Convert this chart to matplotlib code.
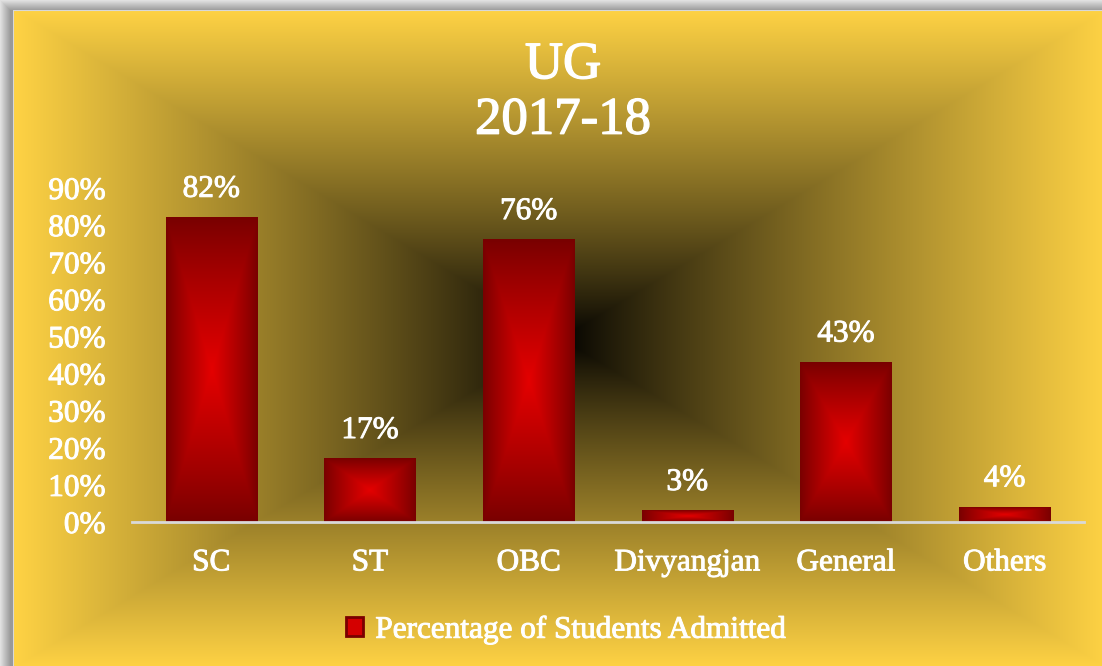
import numpy as np
import matplotlib
matplotlib.use('Agg')
import matplotlib.pyplot as plt
import matplotlib.patheffects as pe
from matplotlib.patches import Rectangle

# Data
categories = ['SC', 'ST', 'OBC', 'Divyangjan', 'General', 'Others']
values = [0.82, 0.17, 0.76, 0.03, 0.43, 0.04]
value_labels = ['82%', '17%', '76%', '3%', '43%', '4%']
y_ticks = [0.0, 0.1, 0.2, 0.3, 0.4, 0.5, 0.6, 0.7, 0.8, 0.9]
y_tick_labels = ['0%', '10%', '20%', '30%', '40%', '50%', '60%', '70%', '80%', '90%']
series_name = 'Percentage of Students Admitted'
title = 'UG\n2017-18'

W, H = 1102, 666
plt.rcParams['font.family'] = ['Liberation Serif', 'DejaVu Serif']
fs = 22.5
# slight white stroke to get closer to the heavier reference font
thick = [pe.withStroke(linewidth=0.7, foreground='white')]

fig = plt.figure(figsize=(W / 100, H / 100), dpi=100)

# grey frame/shadow behind the chart
frame_ax = fig.add_axes([0, 0, 1, 1])
frame_ax.set_axis_off()
px = np.arange(W)
py = np.arange(H)
PX, PY = np.meshgrid(px, py)
d = np.minimum(PX, PY).astype(float)
g = np.clip(0.88 - d * 0.028, 0.6, 0.9)
frame_ax.imshow(np.dstack([g, g, g]), extent=(0, W, H, 0), aspect='auto')
frame_ax.set_xlim(0, W)
frame_ax.set_ylim(H, 0)

# gold -> black rectangular gradient background
x0, y0 = 13, 10
bg_ax = fig.add_axes([x0 / W, 0, 1 - x0 / W, 1 - y0 / H])
bg_ax.set_axis_off()
cx, cy, hw, hh = 560, 338, 545, 328
t = np.maximum(np.abs(PX - cx) / hw, np.abs(PY - cy) / hh)
t = np.clip(t, 0, 1) ** 0.85
gold = np.array([254, 210, 68]) / 255
bg = t[..., None] * gold
bg = bg[y0:, x0:]
bg_ax.imshow(bg, extent=(x0, W, H, y0), aspect='auto')
bg_ax.set_xlim(x0, W)
bg_ax.set_ylim(H, y0)
bg_ax.add_patch(Rectangle((x0, y0), W, H, fill=False, edgecolor='#d8d8d8', linewidth=1.5))

# main chart axes
ax = fig.add_axes([132 / W, 1 - 522 / H, (1084 - 132) / W, (522 - 188) / H])
ax.patch.set_alpha(0)

x = np.arange(len(categories))
bar_w = 0.575
bars = ax.bar(x, values, width=bar_w, color='none', edgecolor='none')

# red rectangular gradient inside each bar
n = 200
u = np.linspace(-1, 1, n)
U, V = np.meshgrid(u, u)
tb = 1 - np.maximum(np.abs(U), np.abs(V))
tb = tb ** 0.9
dark = np.array([120, 0, 0]) / 255
bright = np.array([228, 0, 0]) / 255
bar_img = dark + tb[..., None] * (bright - dark)
for b in bars:
    bx, bw, bh = b.get_x(), b.get_width(), b.get_height()
    ax.imshow(bar_img, extent=(bx, bx + bw, 0, bh), aspect='auto', zorder=2)

for xi, v, lab in zip(x, values, value_labels):
    ax.annotate(lab, (xi, v), xytext=(0, 10), textcoords='offset points',
                ha='center', va='bottom', color='white', fontsize=fs,
                path_effects=thick)

ax.set_xlim(-0.5, len(categories) - 0.5)
ax.set_ylim(0, 0.9)
ax.set_yticks(y_ticks)
ax.set_yticklabels(y_tick_labels)
ax.set_xticks(x)
ax.set_xticklabels(categories)
ax.tick_params(axis='both', length=0, colors='white', labelsize=fs)
ax.tick_params(axis='y', pad=19)
ax.tick_params(axis='x', pad=19)
for lab in ax.get_xticklabels() + ax.get_yticklabels():
    lab.set_path_effects(thick)
for s in ['top', 'right', 'left']:
    ax.spines[s].set_visible(False)
ax.spines['bottom'].set_color('#d9d9d9')
ax.spines['bottom'].set_linewidth(2)
ax.spines['bottom'].set_zorder(3)

fig.text(563 / W, 1 - 93 / H, title, ha='center', va='center', color='white',
         fontsize=38, linespacing=1.2,
         path_effects=[pe.withStroke(linewidth=1.0, foreground='white')])

handle = Rectangle((0, 0), 1, 1, facecolor='#d40000', edgecolor='#7a0000', linewidth=2)
leg = fig.legend([handle], [series_name], loc='center', bbox_to_anchor=(566 / W, 1 - 630 / H),
                 frameon=False, fontsize=fs, labelcolor='white', handlelength=0.55,
                 handleheight=0.55, handletextpad=0.4)
for txt in leg.get_texts():
    txt.set_path_effects(thick)

fig.savefig('out.png', dpi=100)
